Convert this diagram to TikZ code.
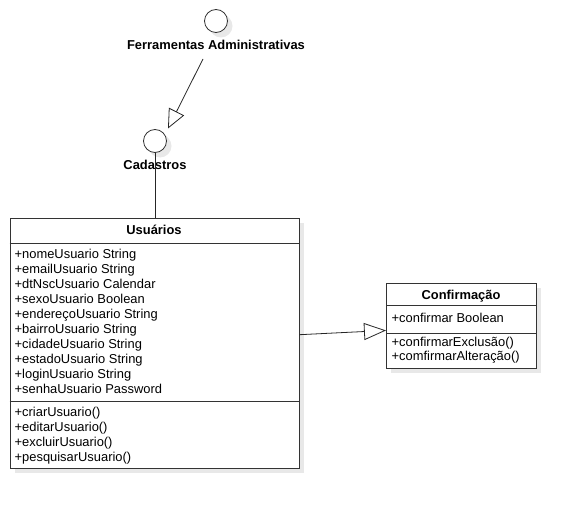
\documentclass[tikz,border=0pt]{standalone}
\usepackage{fontspec}
\setmainfont{Liberation Sans}
\usetikzlibrary{arrows.meta,shadows}
\begin{document}
\begin{tikzpicture}[x=1pt,y=-1pt,
  shad/.style={drop shadow={opacity=1,fill=black!9,shadow xshift=5pt,shadow yshift=-5pt}},
  umlbox/.style={draw=black!80,fill=white,line width=0.9pt,rectangle,inner sep=0pt,anchor=north west,shad},
  usecase/.style={draw=black!80,fill=white,line width=0.8pt,circle,inner sep=0pt,minimum size=23pt,shad},
  txt/.style={inner sep=0pt,anchor=base west,font=\fontsize{12.9}{15}\selectfont},
  ttl/.style={inner sep=0pt,anchor=base,font=\fontsize{12.9}{15}\selectfont\bfseries},
  conn/.style={draw=black!85,line width=0.8pt},
  gen/.style={conn,-{Triangle[open,length=#1,width=17pt,line width=0.8pt]}},
]
\useasboundingbox (0,0) rectangle (575,508);

% use cases
\node[usecase] (ferr) at (216,21) {};
\node[ttl] (ferrl) at (216,49.5) {Ferramentas Administrativas};
\node[usecase] (cad) at (155,141) {};
\node[ttl] (cadl) at (155,169.5) {Cadastros};

% class Usuarios
\node[umlbox,minimum width=289pt,minimum height=250.5pt] (usu) at (9.5,217.5) {};
\draw[draw=black!80,line width=0.9pt] ([yshift=-26pt]usu.north west) -- ([yshift=-26pt]usu.north east);
\draw[draw=black!80,line width=0.9pt] ([yshift=-184pt]usu.north west) -- ([yshift=-184pt]usu.north east);
\node[ttl] (usut) at (154,234.5) {Usuários};
\foreach \t [count=\i from 0] in {+nomeUsuario String,+emailUsuario String,+dtNscUsuario Calendar,+sexoUsuario Boolean,+endereçoUsuario String,+bairroUsuario String,+cidadeUsuario String,+estadoUsuario String,+loginUsuario String,+senhaUsuario Password}
  \node[txt] (ua\i) at (14.5,258+15*\i) {\t};
\foreach \t [count=\i from 0] in {+criarUsuario(),+editarUsuario(),+excluirUsuario(),+pesquisarUsuario()}
  \node[txt] (um\i) at (14.5,416+15*\i) {\t};

% class Confirmacao
\node[umlbox,minimum width=150pt,minimum height=85pt] (conf) at (386,282.5) {};
\draw[draw=black!80,line width=0.9pt] ([yshift=-22.5pt]conf.north west) -- ([yshift=-22.5pt]conf.north east);
\draw[draw=black!80,line width=0.9pt] ([yshift=-51pt]conf.north west) -- ([yshift=-51pt]conf.north east);
\node[ttl] (conft) at (461,299.5) {Confirmação};
\node[txt] (ca0) at (391.5,322.5) {+confirmar Boolean};
\node[txt] (cm0) at (391.5,346) {+confirmarExclusão()};
\node[txt] (cm1) at (391.5,360.5) {+comfirmarAlteração()};

% connectors
\coordinate (fstart) at (203,59);
\coordinate (ftip) at (168,128.5);
\draw[gen=19pt] (fstart) -- (ftip);
\draw[conn] (cad.south) -- (cad.south |- usu.north);
\draw[gen=22pt] ([yshift=8.5pt]usu.east) -- ([yshift=-5pt]conf.west);
\end{tikzpicture}
\end{document}
